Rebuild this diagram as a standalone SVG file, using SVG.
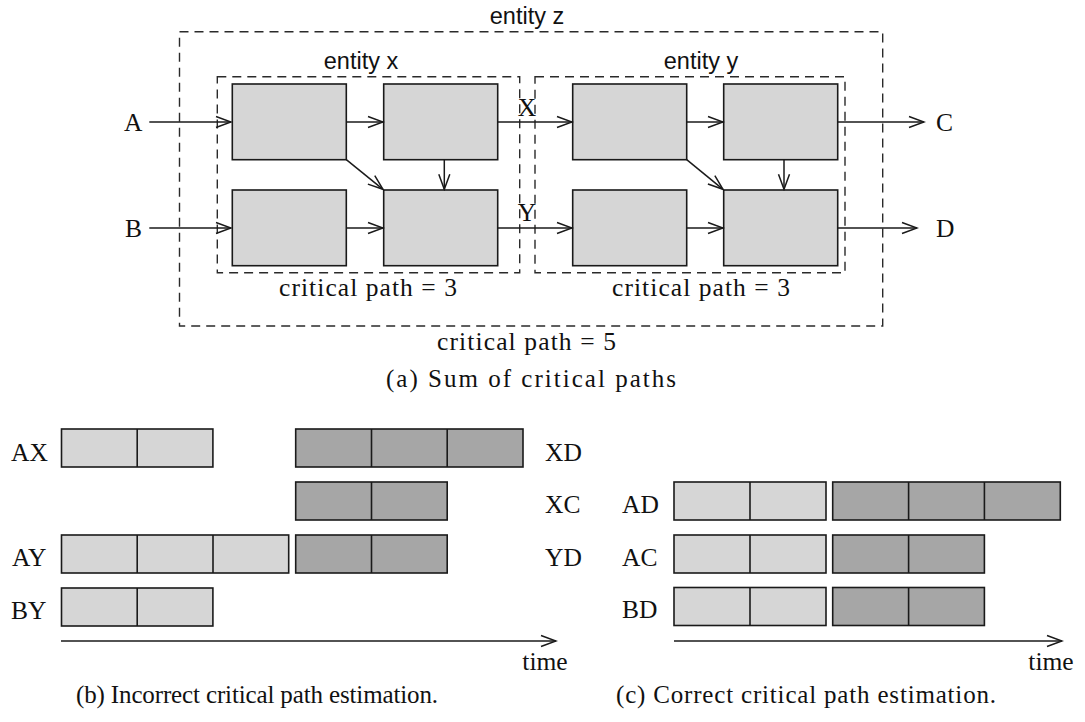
<svg xmlns="http://www.w3.org/2000/svg" width="1085" height="722" viewBox="0 0 1085 722">
<defs>
<marker id="arr" viewBox="-17 -8 19 16" refX="0" refY="0" markerWidth="19" markerHeight="16" markerUnits="userSpaceOnUse" orient="auto">
<path d="M-15,-5.5 L0,0 L-15,5.5" fill="none" stroke="#1a1a1a" stroke-width="1.5"/>
</marker>
<style>
.box{fill:#d6d6d6;stroke:#1a1a1a;stroke-width:1.6}
.dark{fill:#a6a6a6;stroke:#1a1a1a;stroke-width:1.6}
.div{stroke:#1a1a1a;stroke-width:1.6}
.dash{fill:none;stroke:#2a2a2a;stroke-width:1.4;stroke-dasharray:9 6}
.edge{fill:none;stroke:#1a1a1a;stroke-width:1.5;marker-end:url(#arr)}
.serif{font-family:"Liberation Serif","Times New Roman",serif;font-size:25.5px;fill:#111}
.cap{font-family:"Liberation Serif","Times New Roman",serif;font-size:25px;fill:#111}
.sans{font-family:"Liberation Sans",Arial,sans-serif;font-size:23.5px;fill:#111}
</style>
</defs>
<rect width="1085" height="722" fill="#fff"/>

<g id="entity-z">
<rect class="dash" x="179.5" y="31.7" width="703.2" height="294.3"/>
<text class="sans" x="527" y="24" text-anchor="middle">entity z</text>
<text class="serif" x="526.5" y="350" text-anchor="middle" textLength="179" lengthAdjust="spacing">critical path = 5</text>
</g>
<g id="entity-x">
<rect class="dash" x="217.3" y="76.7" width="302.4" height="196"/>
<text class="sans" x="361" y="69" text-anchor="middle">entity x</text>
<text class="serif" x="368" y="296" text-anchor="middle" textLength="178" lengthAdjust="spacing">critical path = 3</text>
</g>
<g id="entity-y">
<rect class="dash" x="535" y="76.7" width="310" height="196"/>
<text class="sans" x="701" y="69" text-anchor="middle">entity y</text>
<text class="serif" x="701" y="296" text-anchor="middle" textLength="178" lengthAdjust="spacing">critical path = 3</text>
</g>

<g id="x1"><rect class="box" x="232.3" y="84" width="114" height="75.7"/></g>
<g id="x2"><rect class="box" x="383.7" y="84" width="114" height="75.7"/></g>
<g id="x3"><rect class="box" x="232.3" y="190" width="114" height="75.7"/></g>
<g id="x4"><rect class="box" x="383.7" y="190" width="114" height="75.7"/></g>
<g id="y1"><rect class="box" x="572.7" y="84" width="114" height="75.7"/></g>
<g id="y2"><rect class="box" x="723.7" y="84" width="114" height="75.7"/></g>
<g id="y3"><rect class="box" x="572.7" y="190" width="114" height="75.7"/></g>
<g id="y4"><rect class="box" x="723.7" y="190" width="114" height="75.7"/></g>

<g id="in-A"><text class="serif" x="124" y="131">A</text></g>
<g id="in-B"><text class="serif" x="125" y="237">B</text></g>
<g id="out-C"><text class="serif" x="936" y="131">C</text></g>
<g id="out-D"><text class="serif" x="936" y="237">D</text></g>

<g id="connectors">
<path class="edge" d="M149.3,122 H231"/>
<path class="edge" d="M149.3,228 H231"/>
<path class="edge" d="M346.3,122 H383"/>
<path class="edge" d="M346.3,228 H383"/>
<path class="edge" d="M346.3,159.7 L383,189.3"/>
<path class="edge" d="M444.3,159.7 V189.3"/>
<path class="edge" d="M497.7,122 H572"/>
<path class="edge" d="M497.7,228 H572"/>
<path class="edge" d="M686.7,122 H723"/>
<path class="edge" d="M686.7,228 H723"/>
<path class="edge" d="M686.7,159.7 L723,189.3"/>
<path class="edge" d="M784,159.7 V189.3"/>
<path class="edge" d="M837.7,122 H924"/>
<path class="edge" d="M837.7,228 H917"/>
<text class="serif" x="527" y="116" text-anchor="middle">X</text>
<text class="serif" x="527" y="221" text-anchor="middle">Y</text>
<path class="edge" d="M61,641 H556"/>
<path class="edge" d="M674,641 H1062"/>
</g>

<text class="cap" x="531" y="387" text-anchor="middle" textLength="290" lengthAdjust="spacing">(a) Sum of critical paths</text>

<g id="row-AX">
<text class="serif" x="11" y="461">AX</text>
<rect class="box" x="61.5" y="429" width="151.4" height="38"/>
<line class="div" x1="137.2" y1="429" x2="137.2" y2="467"/>
</g>
<g id="row-XD">
<rect class="dark" x="295.7" y="429" width="227.3" height="38"/>
<line class="div" x1="371.5" y1="429" x2="371.5" y2="467"/>
<line class="div" x1="447.2" y1="429" x2="447.2" y2="467"/>
<text class="serif" x="545" y="461">XD</text>
</g>
<g id="row-XC">
<rect class="dark" x="295.7" y="482" width="151.5" height="38"/>
<line class="div" x1="371.5" y1="482" x2="371.5" y2="520"/>
<text class="serif" x="545" y="513">XC</text>
</g>
<g id="row-AY">
<text class="serif" x="12" y="566">AY</text>
<rect class="box" x="61.5" y="535" width="227.2" height="38"/>
<line class="div" x1="137.2" y1="535" x2="137.2" y2="573"/>
<line class="div" x1="213" y1="535" x2="213" y2="573"/>
</g>
<g id="row-YD">
<rect class="dark" x="295.7" y="535" width="151.5" height="38"/>
<line class="div" x1="371.5" y1="535" x2="371.5" y2="573"/>
<text class="serif" x="545" y="566">YD</text>
</g>
<g id="row-BY">
<text class="serif" x="11" y="619">BY</text>
<rect class="box" x="61.5" y="588" width="151.4" height="38"/>
<line class="div" x1="137.2" y1="588" x2="137.2" y2="626"/>
</g>
<text class="serif" x="545" y="670" text-anchor="middle">time</text>
<text class="cap" x="257" y="703" text-anchor="middle" textLength="362" lengthAdjust="spacing">(b) Incorrect critical path estimation.</text>

<g id="row-AD">
<text class="serif" x="622" y="513">AD</text>
<rect class="box" x="674" y="482" width="152" height="38"/>
<line class="div" x1="750" y1="482" x2="750" y2="520"/>
<rect class="dark" x="832.7" y="482" width="227.6" height="38"/>
<line class="div" x1="908.6" y1="482" x2="908.6" y2="520"/>
<line class="div" x1="984.4" y1="482" x2="984.4" y2="520"/>
</g>
<g id="row-AC">
<text class="serif" x="622" y="566">AC</text>
<rect class="box" x="674" y="535" width="152" height="38"/>
<line class="div" x1="750" y1="535" x2="750" y2="573"/>
<rect class="dark" x="832.7" y="535" width="151.7" height="38"/>
<line class="div" x1="908.6" y1="535" x2="908.6" y2="573"/>
</g>
<g id="row-BD">
<text class="serif" x="622" y="618">BD</text>
<rect class="box" x="674" y="587.5" width="152" height="38"/>
<line class="div" x1="750" y1="587.5" x2="750" y2="625.5"/>
<rect class="dark" x="832.7" y="587.5" width="151.7" height="38"/>
<line class="div" x1="908.6" y1="587.5" x2="908.6" y2="625.5"/>
</g>
<text class="serif" x="1051" y="670" text-anchor="middle">time</text>
<text class="cap" x="806" y="703" text-anchor="middle" textLength="380" lengthAdjust="spacing">(c) Correct critical path estimation.</text>
</svg>
